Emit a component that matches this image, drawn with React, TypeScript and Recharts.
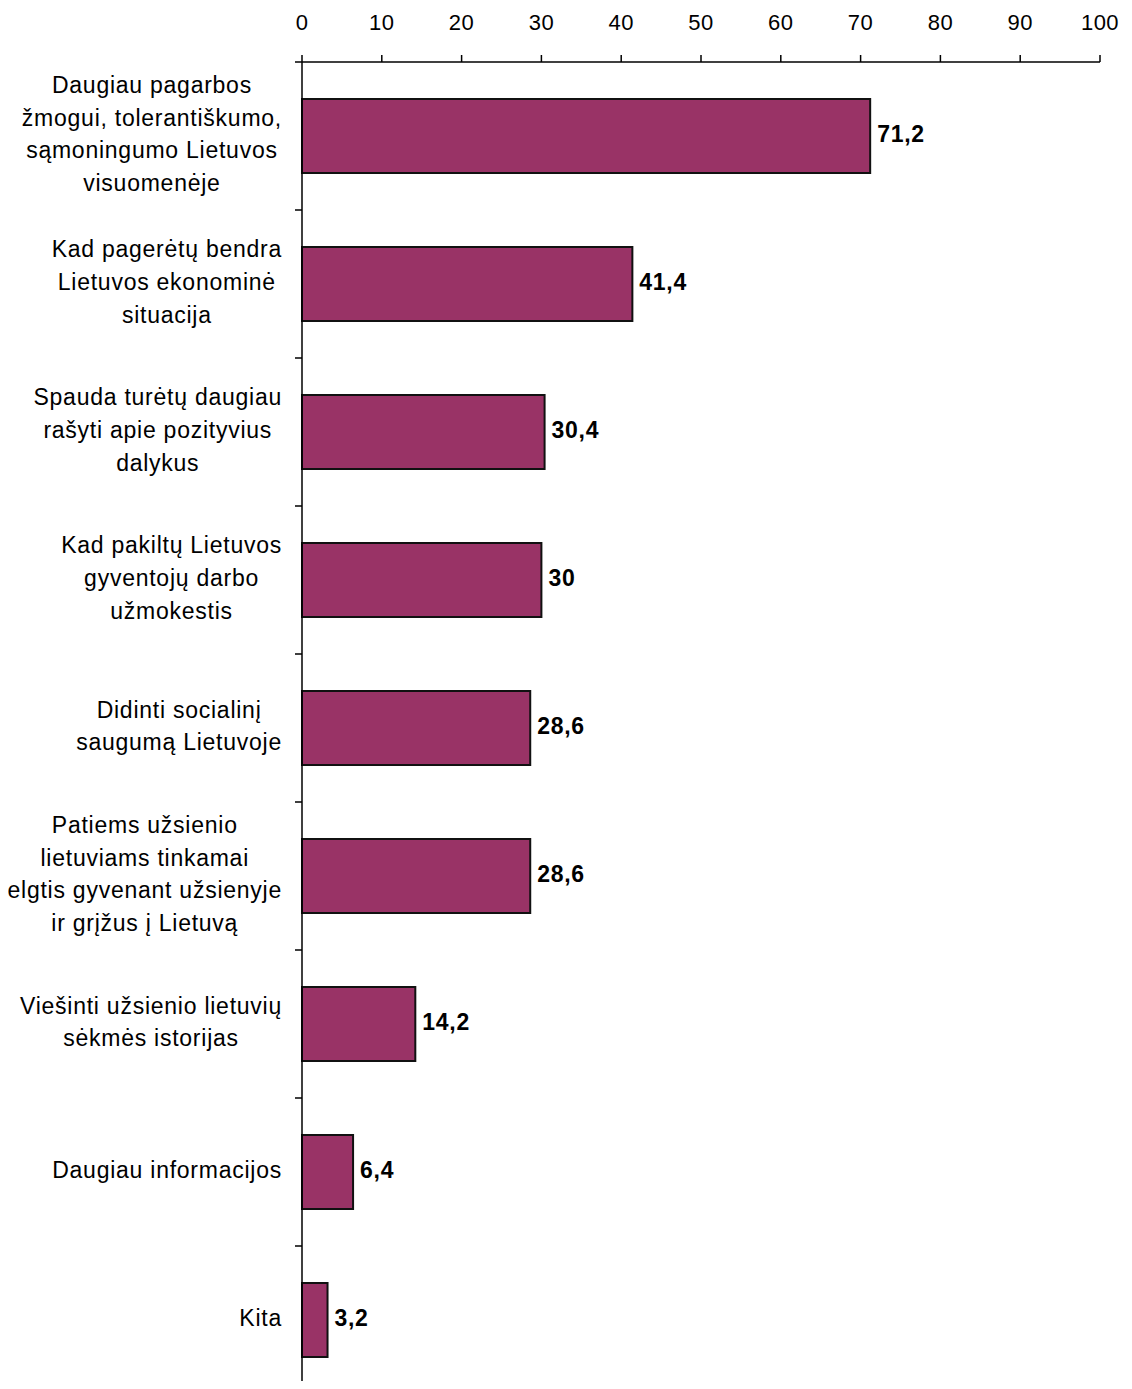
import React from "react";
import { BarChart, Bar, XAxis, YAxis } from "recharts";

const categoryLines: string[][] = [
  ["Daugiau pagarbos", "žmogui, tolerantiškumo,", "sąmoningumo Lietuvos", "visuomenėje"],
  ["Kad pagerėtų bendra", "Lietuvos ekonominė", "situacija"],
  ["Spauda turėtų daugiau", "rašyti apie pozityvius", "dalykus"],
  ["Kad pakiltų Lietuvos", "gyventojų darbo", "užmokestis"],
  ["Didinti socialinį", "saugumą Lietuvoje"],
  ["Patiems užsienio", "lietuviams tinkamai", "elgtis gyvenant užsienyje", "ir grįžus į Lietuvą"],
  ["Viešinti užsienio lietuvių", "sėkmės istorijas"],
  ["Daugiau informacijos"],
  ["Kita"],
];

const values: number[] = [71.2, 41.4, 30.4, 30, 28.6, 28.6, 14.2, 6.4, 3.2];

const xTicks: number[] = [0, 10, 20, 30, 40, 50, 60, 70, 80, 90, 100];

const data = categoryLines.map((lines, i) => ({
  name: lines.join(" | "),
  value: values[i],
}));

const WIDTH = 1132;
const HEIGHT = 1400;
const MARGIN = { top: 0, right: 32, bottom: 6, left: 0 };
const X_AXIS_HEIGHT = 62;
const Y_AXIS_WIDTH = 302;
const Y_TICK_SIZE = 7;
const PLOT_HEIGHT = HEIGHT - MARGIN.top - MARGIN.bottom - X_AXIS_HEIGHT;
const BAND = PLOT_HEIGHT / categoryLines.length;
const HALF_BAND = BAND / 2;
const FONT = "'Liberation Sans', Arial, sans-serif";
const CAT_FONT_SIZE = 23;
const CAT_LETTER_SPACING = 0.75;
const LINE_HEIGHT = 32.6;
const LABEL_GAP = 20; // distance from axis line to right edge of widest line

let measureCtx: CanvasRenderingContext2D | null = null;
const measure = (s: string) => {
  if (!measureCtx) {
    const c = document.createElement("canvas");
    measureCtx = c.getContext("2d");
  }
  if (!measureCtx) return s.length * CAT_FONT_SIZE * 0.5;
  measureCtx.font = `${CAT_FONT_SIZE}px 'Liberation Sans', Arial, sans-serif`;
  return measureCtx.measureText(s).width + CAT_LETTER_SPACING * s.length;
};

const YTick = (props: any) => {
  const { x, y, payload } = props;
  const axisX = x + Y_TICK_SIZE;
  const lines = String(payload.value).split(" | ");
  const n = lines.length;
  const maxW = Math.max(...lines.map(measure));
  const cx = axisX - LABEL_GAP - maxW / 2;
  return (
    <g>
      <line x1={axisX - Y_TICK_SIZE} x2={axisX} y1={y - HALF_BAND} y2={y - HALF_BAND} stroke="#000" strokeWidth={1.5} />
      <text
        x={cx}
        y={y}
        textAnchor="middle"
        fontFamily={FONT}
        fontSize={CAT_FONT_SIZE}
        letterSpacing={CAT_LETTER_SPACING}
        fill="#000"
      >
        {lines.map((l, i) => (
          <tspan key={i} x={cx} y={y - 2 + (i - (n - 1) / 2) * LINE_HEIGHT} dy="0.35em">
            {l}
          </tspan>
        ))}
      </text>
    </g>
  );
};

const XTick = (props: any) => {
  const { x, payload } = props;
  return (
    <text
      x={x}
      y={30}
      textAnchor="middle"
      fontFamily={FONT}
      fontSize={22}
      letterSpacing={0.5}
      fill="#000"
    >
      {payload.value}
    </text>
  );
};

const fmt = (v: any) => String(v).replace(".", ",");

const ValueLabel = (props: any) => {
  const { x, y, width, height, value } = props;
  return (
    <text
      x={x + width + 7}
      y={y + height / 2 - 2}
      dy="0.35em"
      textAnchor="start"
      fontFamily={FONT}
      fontSize={23}
      fontWeight="bold"
      letterSpacing={0.7}
      fill="#000"
    >
      {fmt(value)}
    </text>
  );
};

export default function App() {
  return (
    <div style={{ width: WIDTH, height: 1389, overflow: "hidden", margin: -8, background: "#fff" }}>
      <BarChart
        width={WIDTH}
        height={HEIGHT}
        data={data}
        layout="vertical"
        margin={MARGIN}
      >
        <XAxis
          type="number"
          orientation="top"
          domain={[0, 100]}
          ticks={xTicks}
          interval={0}
          height={X_AXIS_HEIGHT}
          tickSize={7}
          tickMargin={25}
          axisLine={{ stroke: "#000", strokeWidth: 1.5 }}
          tickLine={{ stroke: "#000", strokeWidth: 1.5 }}
          tick={XTick}
        />
        <YAxis
          type="category"
          dataKey="name"
          width={Y_AXIS_WIDTH}
          tickSize={Y_TICK_SIZE}
          tickMargin={0}
          tickLine={false}
          interval={0}
          axisLine={{ stroke: "#000", strokeWidth: 1.5 }}
          tick={YTick}
        />
        <Bar
          dataKey="value"
          barSize={HALF_BAND}
          fill="#993366"
          stroke="#111111"
          strokeWidth={2}
          isAnimationActive={false}
          label={ValueLabel}
        />
      </BarChart>
    </div>
  );
}
